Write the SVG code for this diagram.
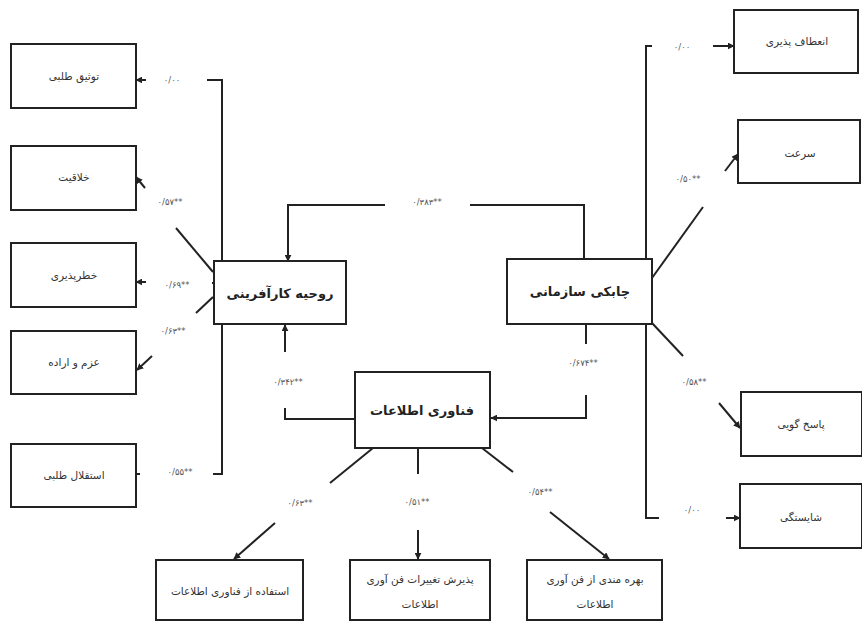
<svg xmlns="http://www.w3.org/2000/svg" width="862" height="625" viewBox="0 0 862 625">
<style>
.box{fill:#fff;stroke:#222;stroke-width:2}
.ln{fill:none;stroke:#222;stroke-width:2}
.ar{fill:none;stroke:#222;stroke-width:2;marker-end:url(#ah)}
.t{font-family:"DejaVu Sans",sans-serif;font-size:10.5px;fill:#333;text-anchor:middle;dominant-baseline:middle}
.tb{font-family:"DejaVu Sans",sans-serif;font-size:13px;font-weight:bold;fill:#222;text-anchor:middle;dominant-baseline:middle}
.n{font-family:"DejaVu Sans",sans-serif;font-size:8.5px;fill:#555;text-anchor:middle;dominant-baseline:middle}
</style>
<defs>
<marker id="ah" viewBox="0 0 10 10" refX="9" refY="5" markerWidth="7" markerHeight="7" markerUnits="userSpaceOnUse" orient="auto">
<path d="M0,0 L10,5 L0,10 z" fill="#222"/>
</marker>
</defs>
<rect width="862" height="625" fill="#fff"/>
<g id="connectors">
<!-- left vertical -->
<polyline class="ln" points="207,80 222,80 222,474 213,474"/>
<line class="ar" x1="146" y1="80" x2="136" y2="80"/>
<line class="ln" x1="136" y1="474" x2="140" y2="474"/>
<!-- خلاقیت -->
<line class="ln" x1="213" y1="272" x2="176" y2="228"/>
<line class="ar" x1="145" y1="188" x2="136" y2="177"/>
<!-- خطرپذیری -->
<line class="ln" x1="212" y1="283" x2="216" y2="283"/>
<line class="ar" x1="146" y1="282" x2="136" y2="282"/>
<!-- عزم -->
<line class="ln" x1="213" y1="297" x2="196" y2="313"/>
<line class="ar" x1="152" y1="356" x2="137" y2="370"/>
<!-- right vertical -->
<polyline class="ln" points="652,46 646,46 646,518 659,518"/>
<line class="ar" x1="713" y1="46" x2="734" y2="46"/>
<line class="ar" x1="726" y1="518" x2="740" y2="518"/>
<!-- سرعت -->
<line class="ln" x1="652" y1="278" x2="703" y2="207"/>
<line class="ar" x1="725" y1="171" x2="738" y2="154"/>
<!-- پاسخ گویی -->
<line class="ln" x1="652" y1="323" x2="683" y2="356"/>
<line class="ar" x1="719" y1="403" x2="740" y2="428"/>
<!-- top 0.383 -->
<polyline class="ln" points="584,259 584,205 470,205"/>
<polyline class="ar" points="385,205 288,205 288,261"/>
<!-- 0.342 -->
<polyline class="ln" points="355,419 285,419 285,408"/>
<line class="ar" x1="285" y1="352" x2="285" y2="325"/>
<!-- 0.674 -->
<line class="ln" x1="586" y1="324" x2="586" y2="344"/>
<polyline class="ar" points="586,395 586,418 491,418"/>
<!-- bottom diagonals -->
<line class="ln" x1="373" y1="448" x2="330" y2="483"/>
<line class="ar" x1="275" y1="523" x2="234" y2="559"/>
<line class="ln" x1="418" y1="448" x2="418" y2="474"/>
<line class="ar" x1="418" y1="530" x2="418" y2="559"/>
<line class="ln" x1="482" y1="448" x2="513" y2="472"/>
<line class="ar" x1="550" y1="512" x2="609" y2="559"/>
</g>
<g id="labels">
<text class="n" x="172" y="80">۰/۰۰</text>
<text class="n" x="170" y="202">۰/۵۷**</text>
<text class="n" x="177" y="285">۰/۶۹**</text>
<text class="n" x="173" y="331">۰/۶۳**</text>
<text class="n" x="180" y="472">۰/۵۵**</text>
<text class="n" x="427" y="202">۰/۳۸۳**</text>
<text class="n" x="288" y="382">۰/۳۴۲**</text>
<text class="n" x="583" y="363">۰/۶۷۴**</text>
<text class="n" x="300" y="503">۰/۶۳**</text>
<text class="n" x="417" y="502">۰/۵۱**</text>
<text class="n" x="540" y="492">۰/۵۴**</text>
<text class="n" x="682" y="47">۰/۰۰</text>
<text class="n" x="688" y="179">۰/۵۰**</text>
<text class="n" x="694" y="382">۰/۵۸**</text>
<text class="n" x="692" y="510">۰/۰۰</text>
</g>
<g id="n1"><rect class="box" x="11" y="44" width="125" height="64"/><text class="t" x="74" y="77">توثیق طلبی</text></g>
<g id="n2"><rect class="box" x="11" y="146" width="125" height="64"/><text class="t" x="74" y="178">خلاقیت</text></g>
<g id="n3"><rect class="box" x="11" y="243" width="125" height="64"/><text class="t" x="74" y="276">خطرپذیری</text></g>
<g id="n4"><rect class="box" x="11" y="331" width="125" height="63"/><text class="t" x="74" y="363">عزم و اراده</text></g>
<g id="n5"><rect class="box" x="11" y="444" width="125" height="63"/><text class="t" x="74" y="476">استقلال طلبی</text></g>
<g id="n6"><rect class="box" x="214" y="261" width="132" height="63"/><text class="tb" x="280" y="294">روحیه کارآفرینی</text></g>
<g id="n7"><rect class="box" x="507" y="259" width="145" height="65"/><text class="tb" x="580" y="292">چابکی سازمانی</text></g>
<g id="n8"><rect class="box" x="355" y="372" width="135" height="76"/><text class="tb" x="422" y="411">فناوری اطلاعات</text></g>
<g id="n9"><rect class="box" x="734" y="10" width="124" height="63"/><text class="t" x="797" y="42">انعطاف پذیری</text></g>
<g id="n10"><rect class="box" x="738" y="120" width="122" height="63"/><text class="t" x="800" y="154">سرعت</text></g>
<g id="n11"><rect class="box" x="741" y="392" width="121" height="64"/><text class="t" x="801" y="425">پاسخ گویی</text></g>
<g id="n12"><rect class="box" x="740" y="484" width="122" height="64"/><text class="t" x="801" y="518">شایستگی</text></g>
<g id="n13"><rect class="box" x="156" y="560" width="147" height="60"/><text class="t" x="230" y="592">استفاده از فناوری اطلاعات</text></g>
<g id="n14"><rect class="box" x="350" y="560" width="140" height="60"/><text class="t" x="420" y="580">پذیرش تغییرات فن آوری</text><text class="t" x="420" y="605">اطلاعات</text></g>
<g id="n15"><rect class="box" x="527" y="560" width="135" height="60"/><text class="t" x="595" y="580">بهره مندی از فن آوری</text><text class="t" x="595" y="605">اطلاعات</text></g>
</svg>
